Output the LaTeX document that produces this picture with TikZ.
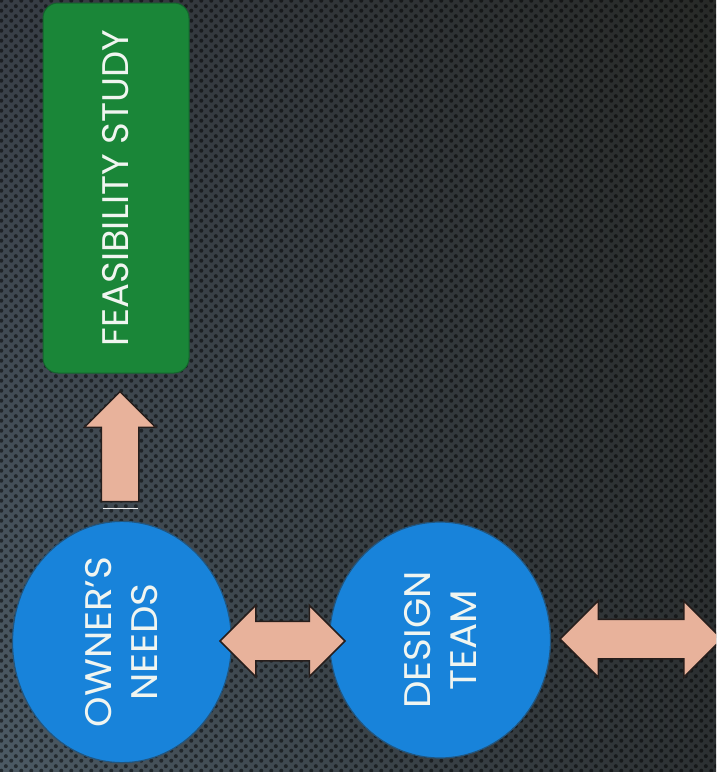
\documentclass[tikz,border=0pt]{standalone}
\usepackage{fontspec}
\setmainfont{Poppins}
\usetikzlibrary{shapes.arrows,shapes.geometric,patterns.meta,shadings}
\definecolor{bgUL}{RGB}{56,62,70}
\definecolor{bgUR}{RGB}{40,42,40}
\definecolor{bgLL}{RGB}{76,90,100}
\definecolor{bgLR}{RGB}{44,48,50}
\definecolor{feasgreen}{RGB}{26,134,56}
\definecolor{feasedge}{RGB}{20,100,45}
\definecolor{circblue}{RGB}{24,131,218}
\definecolor{circedge}{RGB}{35,85,125}
\definecolor{peach}{RGB}{232,178,155}
\definecolor{arrowedge}{RGB}{38,30,28}
\definecolor{txt}{RGB}{240,245,240}
\tikzdeclarepattern{
  name=holes, type=uncolored,
  bounding box={(0pt,0pt) and (10pt,10pt)},
  tile size={(10pt,10pt)},
  code={\fill (2.5pt,2.5pt) circle (2.2pt); \fill (7.5pt,7.5pt) circle (2.2pt);}
}
\newcommand\sq[1]{\scalebox{1.05}[1]{#1}}
\begin{document}
\begin{tikzpicture}[x=1pt,y=-1pt,
  labeltext/.style={text=txt, font=\fontsize{37}{46}\selectfont, align=center},
  feasbox/.style={fill=feasgreen, draw=feasedge, line width=1, rounded corners=15, inner sep=0, labeltext},
  bubble/.style={ellipse, fill=circblue, draw=circedge, line width=1.2, inner sep=0, labeltext},
  uparrow/.style={single arrow, shape border rotate=90, fill=peach, draw=arrowedge, line width=1.5,
    inner xsep=18, inner ysep=0, single arrow head extend=17, single arrow tip angle=90},
  twoarrow/.style={double arrow, fill=peach, draw=arrowedge, line width=1.5,
    inner xsep=0, inner ysep=19, double arrow tip angle=90}
]
\useasboundingbox (0,0) rectangle (716,772);
\clip (0,0) rectangle (716,772);
\shade[upper left=bgUL, upper right=bgUR, lower left=bgLL, lower right=bgLR] (0,0) rectangle (716,772);
\fill[pattern=holes, pattern color=black, opacity=0.5] (0,0) rectangle (716,772);

\node[feasbox, rotate=90, minimum width=370, minimum height=146] (feas) at (116,188) {FEASIBILITY STUDY};

\node[bubble, rotate=90, minimum width=231, minimum height=219] (own) at (122,642) {\sq{OWNER’S}\\\sq{NEEDS}};
\node[bubble, rotate=90, minimum width=236, minimum height=221] (des) at (440,640) {\sq{DESIGN}\\\sq{TEAM}};

\node[uparrow, minimum height=110, minimum width=70] (up) at (120,456) {};
\draw[white!85!gray, line width=1] (103,508) -- (138,508);

\node[twoarrow, minimum height=125, minimum width=70, double arrow head extend=16] (link) at (282.5,641) {};
\node[twoarrow, minimum height=162, minimum width=75, double arrow head extend=18.5] (next) at (641,639) {};
\end{tikzpicture}
\end{document}
